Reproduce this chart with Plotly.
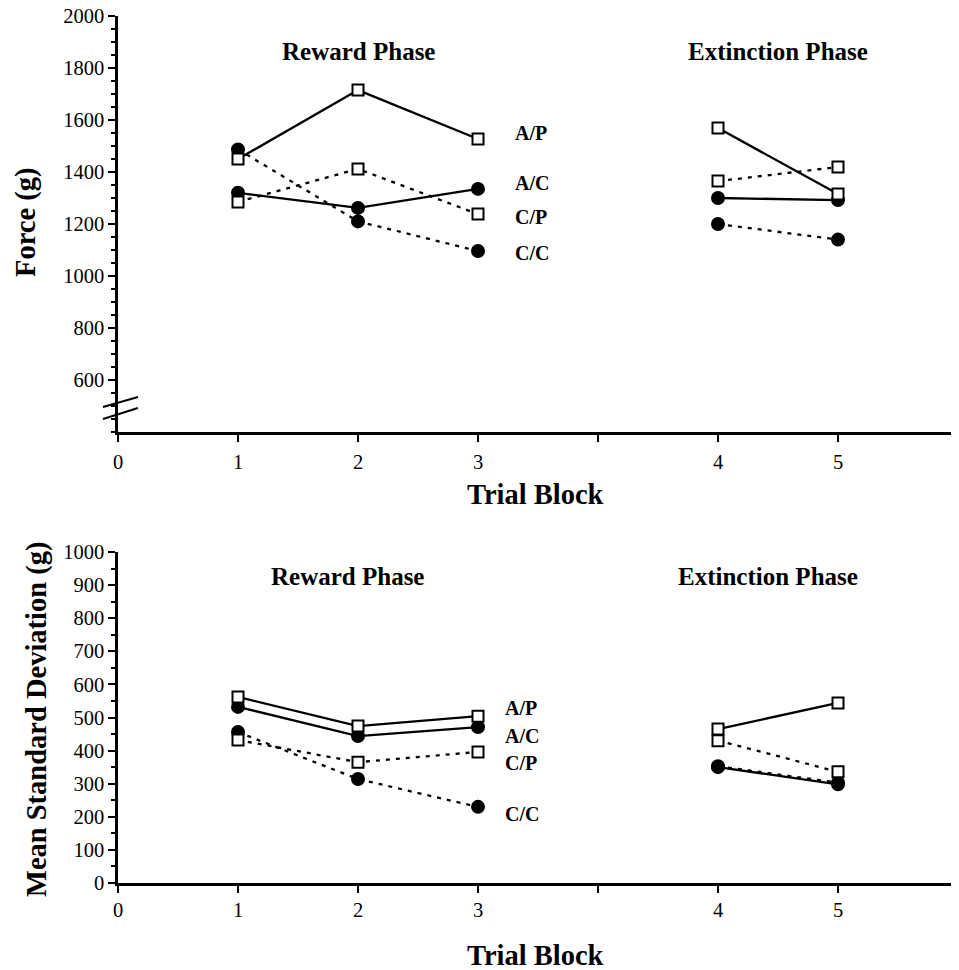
import plotly.graph_objects as go

# ---------------- data ----------------
block_labels = ["1", "2", "3", "4", "5"]
block_pos = [1, 2, 3, 5, 6]          # extinction blocks sit after a gap
phase_of_block = ["R", "R", "R", "E", "E"]

x_tickvals = [0, 1, 2, 3, 4, 5, 6, 7]
x_ticktext = ["0", "1", "2", "3", "", "4", "5", ""]

groups = ["A/P", "A/C", "C/P", "C/C"]

force = {
    "A/P": [1450, 1715, 1527, 1569, 1315],
    "A/C": [1320, 1262, 1335, 1300, 1292],
    "C/P": [1285, 1412, 1238, 1365, 1419],
    "C/C": [1487, 1210, 1096, 1200, 1140],
}
sd = {
    "A/P": [562, 474, 504, 465, 544],
    "A/C": [532, 444, 471, 350, 298],
    "C/P": [432, 365, 396, 430, 336],
    "C/C": [456, 314, 230, 353, 303],
}

force_label_y = {"A/P": 1550, "A/C": 1358, "C/P": 1227, "C/C": 1088}
sd_label_y = {"A/P": 529, "A/C": 444, "C/P": 363, "C/C": 208}

force_ticks = [600, 800, 1000, 1200, 1400, 1600, 1800, 2000]
sd_ticks = [0, 100, 200, 300, 400, 500, 600, 700, 800, 900, 1000]

# ---------------- styles ----------------
OFF = 8                      # page body margin of the browser
W, H = 959 - OFF, 970 - OFF
FONT = "Liberation Serif"
style = {
    "A/P": dict(dash="solid", symbol="square", fill="white"),
    "A/C": dict(dash="solid", symbol="circle", fill="black"),
    "C/P": dict(dash="4px,6px", symbol="square", fill="white"),
    "C/C": dict(dash="4px,6px", symbol="circle", fill="black"),
}

def px_x(p):
    return (p - OFF) / W

def px_y(p):
    return 1 - (p - OFF) / H

fig = go.Figure()

def add_panel(data, xa, ya):
    for g in groups:
        st = style[g]
        for ph in ["R", "E"]:
            xs = [block_pos[i] for i in range(5) if phase_of_block[i] == ph]
            ys = [data[g][i] for i in range(5) if phase_of_block[i] == ph]
            fig.add_trace(go.Scatter(
                x=xs, y=ys, mode="lines", xaxis=xa, yaxis=ya,
                line=dict(color="black", width=2.3, dash=st["dash"]),
                showlegend=False, hoverinfo="skip"))
    for g in ["A/C", "C/C", "A/P", "C/P"]:
        st = style[g]
        fig.add_trace(go.Scatter(
            x=block_pos, y=data[g], mode="markers", xaxis=xa, yaxis=ya,
            marker=dict(symbol=st["symbol"], size=12 if st["symbol"] == "circle" else 11,
                        color=st["fill"], line=dict(color="black", width=2)),
            name=g, showlegend=False, cliponaxis=False))

add_panel(force, "x", "y")
add_panel(sd, "x2", "y2")

axis_common = dict(
    showline=True, linecolor="black", linewidth=2.5, ticks="outside",
    tickcolor="black", tickwidth=2, ticklen=7, showgrid=False, zeroline=False,
    automargin=False, ticklabeloverflow="allow",
    tickfont=dict(family=FONT, size=20.5, color="black"),
)

top_dom = [px_y(432), px_y(16)]
bot_dom = [px_y(883), px_y(552)]
xdom = [px_x(118), px_x(958)]
minor = dict(dtick=50, tick0=0, ticklen=4, tickcolor="black", tickwidth=1.5, ticks="outside")

fig.update_layout(
    width=W, height=H, margin=dict(l=0, r=0, t=0, b=0, autoexpand=False),
    plot_bgcolor="white", paper_bgcolor="white",
    xaxis=dict(domain=xdom, range=[0, 7], anchor="y", tickvals=x_tickvals,
               ticktext=x_ticktext, ticklabelstandoff=3, **axis_common),
    yaxis=dict(domain=top_dom, range=[400, 2000], anchor="x", tickvals=force_ticks,
               minor=minor, ticklabelstandoff=0, **axis_common),
    xaxis2=dict(domain=xdom, range=[0, 7], anchor="y2", tickvals=x_tickvals,
                ticktext=x_ticktext, ticklabelstandoff=0, **axis_common),
    yaxis2=dict(domain=bot_dom, range=[0, 1000], anchor="x2", tickvals=sd_ticks,
                minor=minor, ticklabelstandoff=0, **axis_common),
)

ann = []
def text(x, y, t, size, xref, yref, xanchor="center", angle=0):
    ann.append(dict(x=x, y=y, text="<b>" + t + "</b>", xref=xref, yref=yref, showarrow=False,
                    xanchor=xanchor, yanchor="middle", textangle=angle,
                    font=dict(family=FONT, size=size, color="black")))

# phase titles
text(1.35, 1862, "Reward Phase", 25, "x", "y", xanchor="left")
text(4.73, 1862, "Extinction Phase", 25, "x", "y", xanchor="left")
text(1.26, 927, "Reward Phase", 25, "x2", "y2", xanchor="left")
text(4.65, 927, "Extinction Phase", 25, "x2", "y2", xanchor="left")

# group labels
for g in groups:
    text(3.29, force_label_y[g], g, 20, "x", "y", xanchor="left")
    text(3.21, sd_label_y[g], g, 20, "x2", "y2", xanchor="left")

# axis titles
text(px_x(26), px_y(223), "Force (g)", 28.5, "paper", "paper", angle=-90)
text(px_x(37), px_y(720), "Mean Standard Deviation (g)", 28.5, "paper", "paper", angle=-90)
text(px_x(535), px_y(494), "Trial Block", 28.5, "paper", "paper")
text(px_x(535), px_y(955), "Trial Block", 28.5, "paper", "paper")

fig.update_layout(annotations=ann)

# axis break marks
for (x0, y0, x1, y1) in [(103, 407, 138, 397), (103, 419, 138, 408)]:
    fig.add_shape(type="line", xref="paper", yref="paper",
                  x0=px_x(x0), y0=px_y(y0), x1=px_x(x1), y1=px_y(y1),
                  line=dict(color="black", width=2))

fig.write_html("out.html")
